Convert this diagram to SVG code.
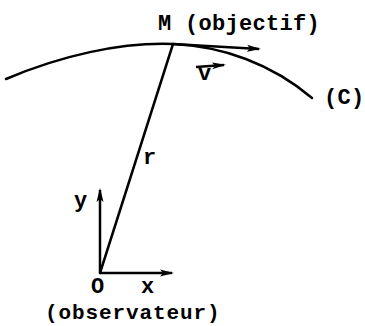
<svg xmlns="http://www.w3.org/2000/svg" width="365" height="326" viewBox="0 0 365 326">
<style>
.t{font-family:"Liberation Mono","DejaVu Sans Mono",monospace;font-weight:bold;font-size:22px;fill:#000;letter-spacing:0.3px}
.s{font-size:21px;letter-spacing:0.9px}
.ln{stroke:#000;stroke-width:2.5;fill:none;stroke-linecap:round}
.ar{stroke:#000;stroke-width:2.5;fill:none;marker-end:url(#ah)}
</style>
<defs>
<marker id="ah" viewBox="0 0 14 8" refX="12" refY="4" markerWidth="14" markerHeight="8" markerUnits="userSpaceOnUse" orient="auto">
<path d="M0,0.5 L14,4 L0,7.5 L3,4 Z" fill="#000"/>
</marker>
</defs>
<rect width="365" height="326" fill="#fff"/>
<g id="curve-C">
<path class="ln" d="M6,79 C60,56 120,42 173,44 C222,46 272,64 312,98"/>
<text class="t" x="324" y="104">(C)</text>
</g>
<g id="point-M">
<text class="t" x="158" y="30">M (objectif)</text>
</g>
<g id="point-O">
<text class="t" x="91" y="293">O</text>
<text class="t s" x="45" y="319">(observateur)</text>
</g>
<g id="connectors">
<line class="ln" x1="173" y1="44" x2="100" y2="273"/>
<text class="t" x="143" y="164">r</text>
<line class="ar" x1="173" y1="44" x2="259" y2="49"/>
<line class="ar" x1="100" y1="273" x2="100" y2="190"/>
<text class="t" x="74" y="207">y</text>
<line class="ar" x1="100" y1="273" x2="172" y2="273"/>
<text class="t" x="141" y="293">x</text>
<line class="ar" x1="196" y1="67" x2="224" y2="65"/>
<text class="t" x="198" y="80">v</text>
</g>
</svg>
